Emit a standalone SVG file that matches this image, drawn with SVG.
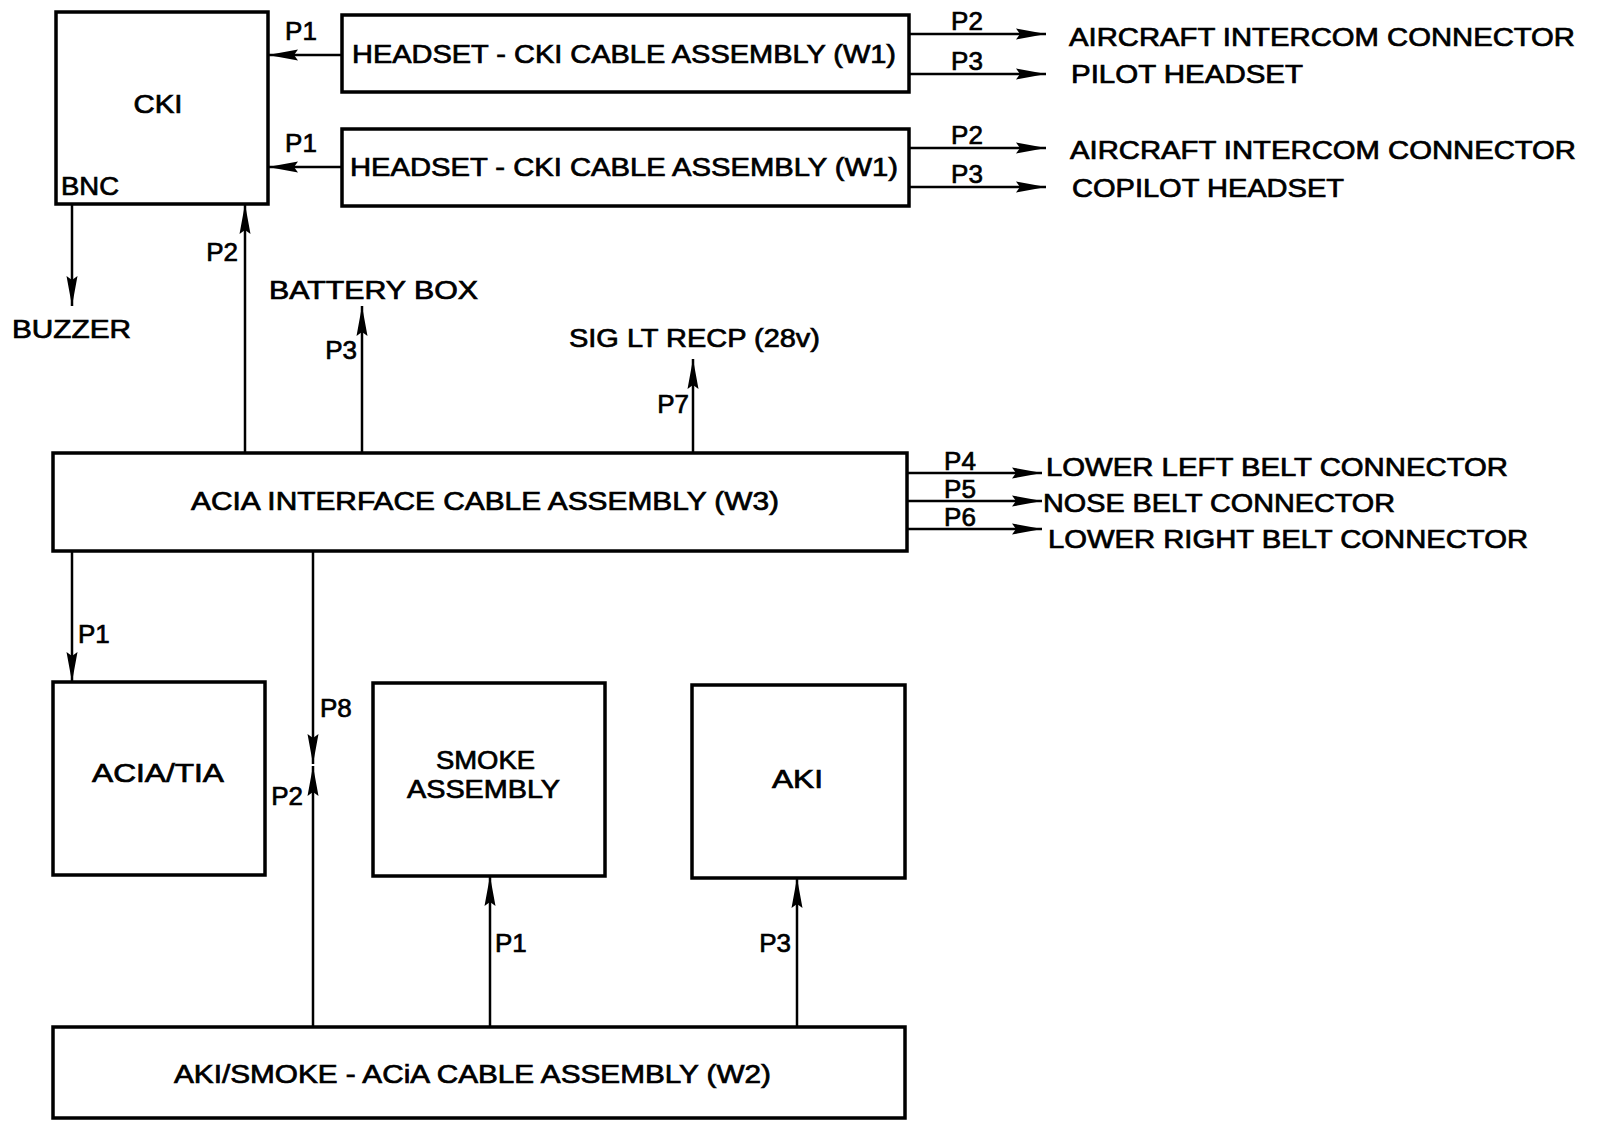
<svg xmlns="http://www.w3.org/2000/svg" width="1601" height="1121" viewBox="0 0 1601 1121">
<style>
.box{fill:#fff;stroke:#000;stroke-width:3.5}
.ar{stroke:#000;stroke-width:2.5;fill:none;marker-end:url(#ah)}
text{font-family:"Liberation Sans",Arial,sans-serif;font-size:25px;fill:#000;stroke:#000;stroke-width:0.7}
.p{font-size:26px}
</style>
<defs>
<marker id="ah" markerUnits="userSpaceOnUse" markerWidth="30" markerHeight="12" viewBox="0 0 30 12" refX="30" refY="6" orient="auto">
<path d="M0,0.5 L30,6 L0,11.5 L4,6 z" fill="#000"/>
</marker>
</defs>
<rect width="1601" height="1121" fill="#fff"/>

<g id="connectors">
<line class="ar" x1="342" y1="55" x2="268" y2="55"/>
<line class="ar" x1="342" y1="167" x2="268" y2="167"/>
<line class="ar" x1="909" y1="34" x2="1046" y2="34"/>
<line class="ar" x1="909" y1="74" x2="1046" y2="74"/>
<line class="ar" x1="909" y1="148" x2="1046" y2="148"/>
<line class="ar" x1="909" y1="187" x2="1046" y2="187"/>
<line class="ar" x1="72" y1="204" x2="72" y2="306"/>
<line class="ar" x1="245" y1="452" x2="245" y2="204"/>
<line class="ar" x1="362" y1="452" x2="362" y2="306"/>
<line class="ar" x1="693" y1="452" x2="693" y2="359"/>
<line class="ar" x1="907" y1="473" x2="1042" y2="473"/>
<line class="ar" x1="907" y1="501" x2="1042" y2="501"/>
<line class="ar" x1="907" y1="529" x2="1042" y2="529"/>
<line class="ar" x1="72" y1="551" x2="72" y2="682"/>
<line class="ar" x1="313" y1="551" x2="313" y2="764"/>
<line class="ar" x1="313" y1="1026" x2="313" y2="766"/>
<line class="ar" x1="490" y1="1026" x2="490" y2="876"/>
<line class="ar" x1="797" y1="1026" x2="797" y2="878"/>
<text class="p" x="301" y="40" text-anchor="middle">P1</text>
<text class="p" x="301" y="152" text-anchor="middle">P1</text>
<text class="p" x="967" y="30" text-anchor="middle">P2</text>
<text class="p" x="967" y="70" text-anchor="middle">P3</text>
<text class="p" x="967" y="144" text-anchor="middle">P2</text>
<text class="p" x="967" y="183" text-anchor="middle">P3</text>
<text class="p" x="238" y="261" text-anchor="end">P2</text>
<text class="p" x="357" y="359" text-anchor="end">P3</text>
<text class="p" x="689" y="413" text-anchor="end">P7</text>
<text class="p" x="960" y="470" text-anchor="middle">P4</text>
<text class="p" x="960" y="498" text-anchor="middle">P5</text>
<text class="p" x="960" y="526" text-anchor="middle">P6</text>
<text class="p" x="78" y="643">P1</text>
<text class="p" x="320" y="717">P8</text>
<text class="p" x="303" y="805" text-anchor="end">P2</text>
<text class="p" x="495" y="952">P1</text>
<text class="p" x="791" y="952" text-anchor="end">P3</text>
</g>

<g id="cki">
<rect class="box" x="56" y="12" width="212" height="192"/>
<text x="158" y="113" text-anchor="middle" textLength="49" lengthAdjust="spacingAndGlyphs">CKI</text>
<text x="61" y="195" textLength="58" lengthAdjust="spacingAndGlyphs">BNC</text>
</g>

<g id="w1-pilot">
<rect class="box" x="342" y="15" width="567" height="77"/>
<text x="352" y="63" textLength="544" lengthAdjust="spacingAndGlyphs">HEADSET - CKI CABLE ASSEMBLY (W1)</text>
</g>

<g id="w1-copilot">
<rect class="box" x="342" y="129" width="567" height="77"/>
<text x="350" y="176" textLength="548" lengthAdjust="spacingAndGlyphs">HEADSET - CKI CABLE ASSEMBLY (W1)</text>
</g>

<g id="pilot-targets">
<text x="1069" y="46" textLength="506" lengthAdjust="spacingAndGlyphs">AIRCRAFT INTERCOM CONNECTOR</text>
<text x="1071" y="83" textLength="232" lengthAdjust="spacingAndGlyphs">PILOT HEADSET</text>
</g>

<g id="copilot-targets">
<text x="1070" y="159" textLength="506" lengthAdjust="spacingAndGlyphs">AIRCRAFT INTERCOM CONNECTOR</text>
<text x="1072" y="197" textLength="272" lengthAdjust="spacingAndGlyphs">COPILOT HEADSET</text>
</g>

<g id="buzzer">
<text x="12" y="338" textLength="119" lengthAdjust="spacingAndGlyphs">BUZZER</text>
</g>

<g id="battery-box">
<text x="269" y="299" textLength="209" lengthAdjust="spacingAndGlyphs">BATTERY BOX</text>
</g>

<g id="sig-lt-recp">
<text x="569" y="347" textLength="251" lengthAdjust="spacingAndGlyphs">SIG LT RECP (28v)</text>
</g>

<g id="w3">
<rect class="box" x="53" y="453" width="854" height="98"/>
<text x="191" y="510" textLength="588" lengthAdjust="spacingAndGlyphs">ACIA INTERFACE CABLE ASSEMBLY (W3)</text>
</g>

<g id="belt-targets">
<text x="1046" y="476" textLength="462" lengthAdjust="spacingAndGlyphs">LOWER LEFT BELT CONNECTOR</text>
<text x="1043" y="512" textLength="352" lengthAdjust="spacingAndGlyphs">NOSE BELT CONNECTOR</text>
<text x="1048" y="548" textLength="480" lengthAdjust="spacingAndGlyphs">LOWER RIGHT BELT CONNECTOR</text>
</g>

<g id="acia-tia">
<rect class="box" x="53" y="682" width="212" height="193"/>
<text x="92" y="782" textLength="132" lengthAdjust="spacingAndGlyphs">ACIA/TIA</text>
</g>

<g id="smoke">
<rect class="box" x="373" y="683" width="232" height="193"/>
<text x="436" y="769" textLength="99" lengthAdjust="spacingAndGlyphs">SMOKE</text>
<text x="407" y="798" textLength="153" lengthAdjust="spacingAndGlyphs">ASSEMBLY</text>
</g>

<g id="aki">
<rect class="box" x="692" y="685" width="213" height="193"/>
<text x="772" y="788" textLength="51" lengthAdjust="spacingAndGlyphs">AKI</text>
</g>

<g id="w2">
<rect class="box" x="53" y="1027" width="852" height="91"/>
<text x="174" y="1083" textLength="597" lengthAdjust="spacingAndGlyphs">AKI/SMOKE - ACiA CABLE ASSEMBLY (W2)</text>
</g>
</svg>
